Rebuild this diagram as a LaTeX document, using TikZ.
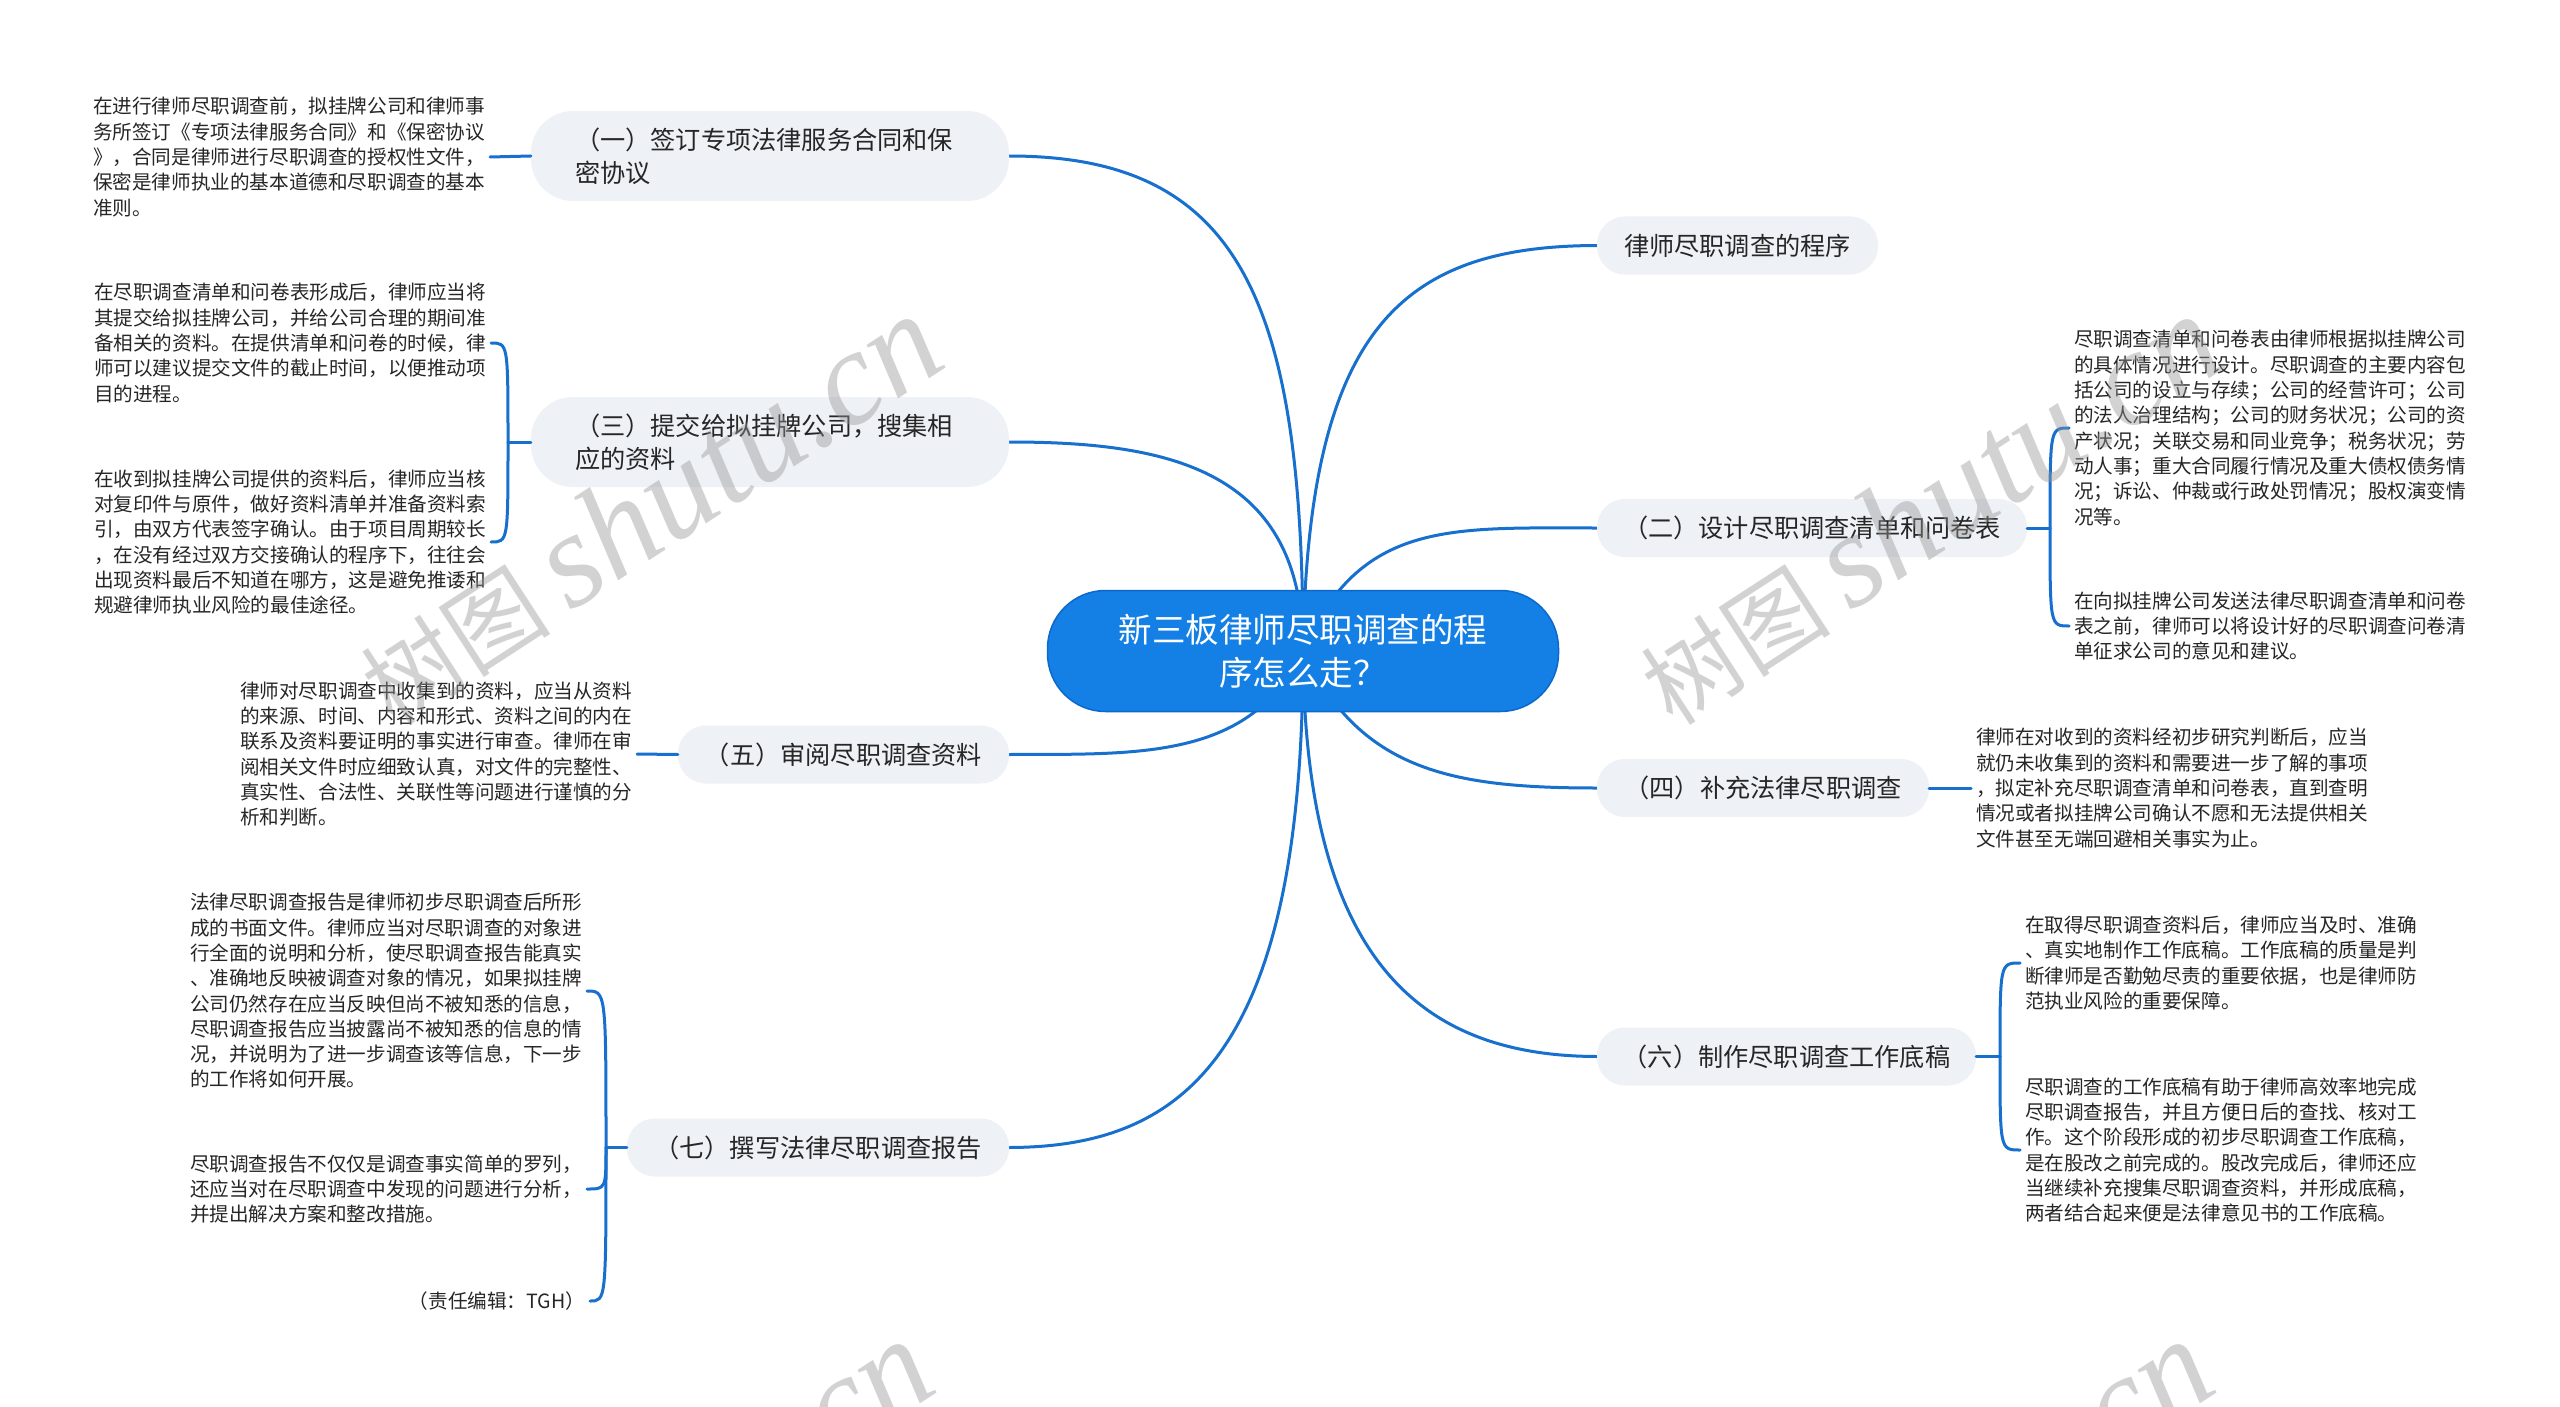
\documentclass[tikz,border=0pt]{standalone}
\usepackage{fontspec}
\setmainfont{Noto Sans CJK SC}
\newfontfamily\wmlatin{Liberation Serif}
\usetikzlibrary{backgrounds}
\definecolor{cblue}{RGB}{20,128,230}
\definecolor{cborder}{RGB}{12,104,204}
\definecolor{lineblue}{RGB}{24,112,206}
\definecolor{pillgray}{RGB}{238,241,245}
\definecolor{ink}{RGB}{38,38,38}
\definecolor{wmgray}{RGB}{150,150,150}
\newcommand{\leaffont}{\fontsize{19.6}{25.3}\selectfont}
\newcommand{\branchfont}{\fontsize{25.2}{32.7}\selectfont}
\newcommand{\centerfont}{\fontsize{33.5}{42.5}\selectfont}
\begin{document}
\begin{tikzpicture}[x=1pt,y=-1pt,
  leaf/.style={inner sep=0pt, outer sep=5pt, align=left, font=\leaffont, text=ink},
  pill/.style={fill=pillgray, rounded corners=28, minimum height=58, inner xsep=0pt, inner ysep=0pt, font=\branchfont, text=ink},
  pilltwo/.style={pill, rounded corners=42, minimum height=90, text width=390, align=left},
  conn/.style={draw=lineblue, line width=3pt, line cap=round},
  wm/.style={text=wmgray, text opacity=0.42, inner sep=0pt, rotate=33}
]
\useasboundingbox (0,0) rectangle (2560,1407);

% central topic
\node[fill=cblue, draw=cborder, line width=1.5pt, rounded corners=58, minimum width=511, minimum height=121,
      text=white, font=\centerfont, align=center, inner sep=0pt] (c) at (1303,651)
  {新三板律师尽职调查的程\\序怎么走？};

% branches
\node[pilltwo, minimum width=478] (B1) at (770,156) {（一）签订专项法律服务合同和保\\密协议};
\node[pilltwo, minimum width=478] (B3) at (770,442) {（三）提交给拟挂牌公司，搜集相\\应的资料};
\node[pill, minimum width=331] (B5) at (843.5,754.5) {（五）审阅尽职调查资料};
\node[pill, minimum width=382] (B7) at (818,1147.5) {（七）撰写法律尽职调查报告};
\node[pill, minimum width=281] (P) at (1737.5,245.5) {律师尽职调查的程序};
\node[pill, minimum width=430] (B2) at (1812,528) {（二）设计尽职调查清单和问卷表};
\node[pill, minimum width=332] (B4) at (1763,788) {（四）补充法律尽职调查};
\node[pill, minimum width=379] (B6) at (1786.5,1056.5) {（六）制作尽职调查工作底稿};

% leaves (left)
\node[leaf, anchor=east] (L1) at (490,157) {在进行律师尽职调查前，拟挂牌公司和律师事\\务所签订《专项法律服务合同》和《保密协议\\》，合同是律师进行尽职调查的授权性文件，\\保密是律师执业的基本道德和尽职调查的基本\\准则。};
\node[leaf, anchor=east] (L3a) at (491,343) {在尽职调查清单和问卷表形成后，律师应当将\\其提交给拟挂牌公司，并给公司合理的期间准\\备相关的资料。在提供清单和问卷的时候，律\\师可以建议提交文件的截止时间，以便推动项\\目的进程。};
\node[leaf, anchor=east] (L3b) at (491,542) {在收到拟挂牌公司提供的资料后，律师应当核\\对复印件与原件，做好资料清单并准备资料索\\引，由双方代表签字确认。由于项目周期较长\\，在没有经过双方交接确认的程序下，往往会\\出现资料最后不知道在哪方，这是避免推诿和\\规避律师执业风险的最佳途径。};
\node[leaf, anchor=east] (L5) at (637,754) {律师对尽职调查中收集到的资料，应当从资料\\的来源、时间、内容和形式、资料之间的内在\\联系及资料要证明的事实进行审查。律师在审\\阅相关文件时应细致认真，对文件的完整性、\\真实性、合法性、关联性等问题进行谨慎的分\\析和判断。};
\node[leaf, anchor=east] (L7a) at (587,991) {法律尽职调查报告是律师初步尽职调查后所形\\成的书面文件。律师应当对尽职调查的对象进\\行全面的说明和分析，使尽职调查报告能真实\\、准确地反映被调查对象的情况，如果拟挂牌\\公司仍然存在应当反映但尚不被知悉的信息，\\尽职调查报告应当披露尚不被知悉的信息的情\\况，并说明为了进一步调查该等信息，下一步\\的工作将如何开展。};
\node[leaf, anchor=east] (L7b) at (587,1189) {尽职调查报告不仅仅是调查事实简单的罗列，\\还应当对在尽职调查中发现的问题进行分析，\\并提出解决方案和整改措施。};
\node[leaf, anchor=east] (L7c) at (590,1301) {（责任编辑：TGH）};

% leaves (right)
\node[leaf, anchor=west] (L2a) at (2069,428) {尽职调查清单和问卷表由律师根据拟挂牌公司\\的具体情况进行设计。尽职调查的主要内容包\\括公司的设立与存续；公司的经营许可；公司\\的法人治理结构；公司的财务状况；公司的资\\产状况；关联交易和同业竞争；税务状况；劳\\动人事；重大合同履行情况及重大债权债务情\\况；诉讼、仲裁或行政处罚情况；股权演变情\\况等。};
\node[leaf, anchor=west] (L2b) at (2069,626) {在向拟挂牌公司发送法律尽职调查清单和问卷\\表之前，律师可以将设计好的尽职调查问卷清\\单征求公司的意见和建议。};
\node[leaf, anchor=west] (L4) at (1971,788) {律师在对收到的资料经初步研究判断后，应当\\就仍未收集到的资料和需要进一步了解的事项\\，拟定补充尽职调查清单和问卷表，直到查明\\情况或者拟挂牌公司确认不愿和无法提供相关\\文件甚至无端回避相关事实为止。};
\node[leaf, anchor=west] (L6a) at (2020,963) {在取得尽职调查资料后，律师应当及时、准确\\、真实地制作工作底稿。工作底稿的质量是判\\断律师是否勤勉尽责的重要依据，也是律师防\\范执业风险的重要保障。};
\node[leaf, anchor=west] (L6b) at (2020,1150) {尽职调查的工作底稿有助于律师高效率地完成\\尽职调查报告，并且方便日后的查找、核对工\\作。这个阶段形成的初步尽职调查工作底稿，\\是在股改之前完成的。股改完成后，律师还应\\当继续补充搜集尽职调查资料，并形成底稿，\\两者结合起来便是法律意见书的工作底稿。};

% brace junctions
\coordinate (k3) at (508,442);
\coordinate (k7) at (606,1147.5);
\coordinate (k2) at (2050,528);
\coordinate (k6) at (2000,1056.5);

\begin{scope}[on background layer]
  \fill[white] (0,0) rectangle (2560,1407);
  % main connectors
  \draw[conn] (c.center) .. controls (1303,300) and (1240,156) .. (B1.east);
  \draw[conn] (c.center) .. controls (1303,470) and (1170,442) .. (B3.east);
  \draw[conn] (c.center) .. controls (1308,330) and (1400,246) .. (P.west);
  \draw[conn] (c.center) .. controls (1360,520) and (1450,528) .. (B2.west);
  \draw[conn] (c.center) .. controls (1250,760) and (1140,754) .. (B5.east);
  \draw[conn] (c.center) .. controls (1360,770) and (1450,788) .. (B4.west);
  \draw[conn] (c.center) .. controls (1305,960) and (1420,1056) .. (B6.west);
  \draw[conn] (c.center) .. controls (1303,1060) and (1180,1147) .. (B7.east);
\end{scope}

% single leaf connectors
\draw[conn] (B1.west) -- (L1.east);
\draw[conn] (B5.west) -- (L5.east);
\draw[conn] (B4.east) -- (L4.west);

% braces
\draw[conn] (B3.west) -- (k3);
\draw[conn] (k3) .. controls (k3 |- L3a.east) .. (L3a.east);
\draw[conn] (k3) .. controls (k3 |- L3b.east) .. (L3b.east);

\draw[conn] (B7.west) -- (k7);
\draw[conn] (k7) .. controls (k7 |- L7a.east) .. (L7a.east);
\draw[conn] (k7) .. controls (k7 |- L7b.east) .. (L7b.east);
\draw[conn] (k7) .. controls (k7 |- L7c.east) .. (L7c.east);

\draw[conn] (B2.east) -- (k2);
\draw[conn] (k2) .. controls (k2 |- L2a.west) .. (L2a.west);
\draw[conn] (k2) .. controls (k2 |- L2b.west) .. (L2b.west);

\draw[conn] (B6.east) -- (k6);
\draw[conn] (k6) .. controls (k6 |- L6a.west) .. (L6a.west);
\draw[conn] (k6) .. controls (k6 |- L6b.west) .. (L6b.west);

% watermarks
\begin{scope}
\clip (0,0) rectangle (2560,1407);
\node[wm] (W1) at (649,510) {\fontsize{95}{95}\selectfont 树图 \wmlatin\itshape\fontsize{135}{135}\selectfont shutu.cn};
\node[wm] (W2) at (1929,510) {\fontsize{95}{95}\selectfont 树图 \wmlatin\itshape\fontsize{135}{135}\selectfont shutu.cn};
\node[wm] (W3) at (640,1535) {\fontsize{95}{95}\selectfont 树图 \wmlatin\itshape\fontsize{135}{135}\selectfont shutu.cn};
\node[wm] (W4) at (1920,1535) {\fontsize{95}{95}\selectfont 树图 \wmlatin\itshape\fontsize{135}{135}\selectfont shutu.cn};
\end{scope}
\end{tikzpicture}
\end{document}
